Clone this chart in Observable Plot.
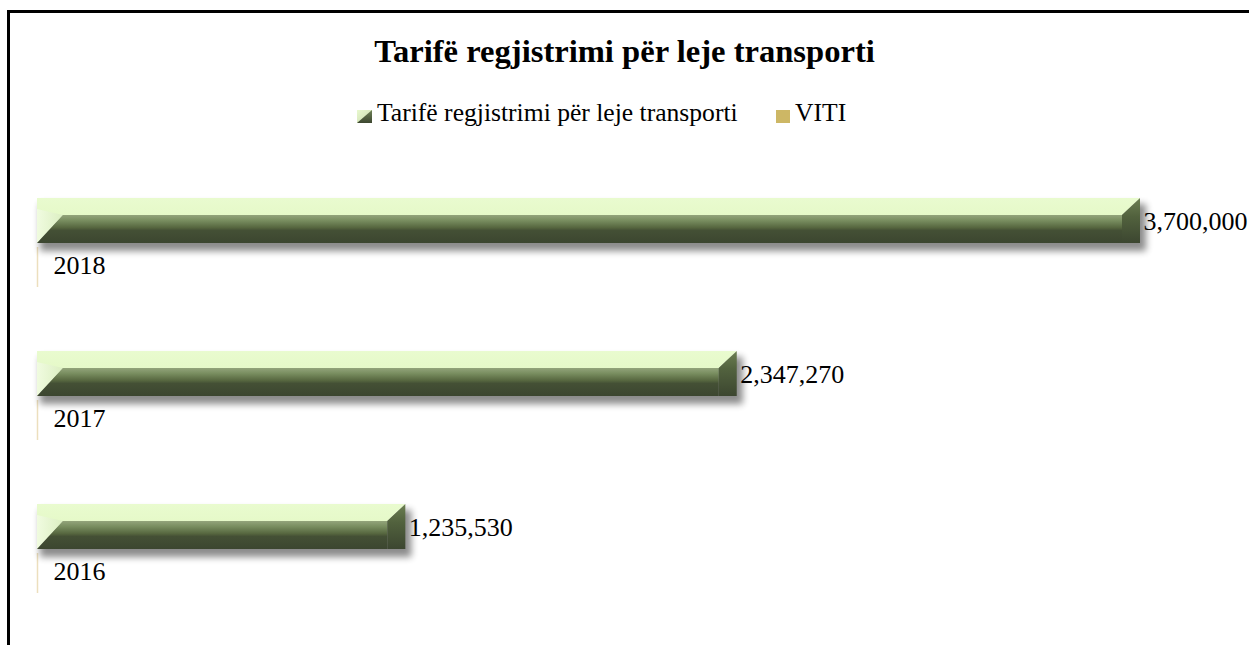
<!DOCTYPE html>
<html><head><meta charset="utf-8">
<script src="https://cdn.jsdelivr.net/npm/d3@7"></script>
<script src="https://cdn.jsdelivr.net/npm/@observablehq/plot@0.6"></script>
<style>
html,body{margin:0;padding:0;background:#fff;width:1249px;height:645px;overflow:hidden;}
body{position:relative;font-family:"Liberation Serif","Times New Roman",serif;color:#000;}
#frame{position:absolute;left:7px;top:10px;width:1300px;height:700px;border-top:3px solid #000;border-left:3px solid #000;box-sizing:border-box;}
#title{position:absolute;left:0;width:1249px;top:35px;text-align:center;font-size:32.6px;font-weight:bold;line-height:1;white-space:nowrap;}
.leg{position:absolute;font-size:25.6px;line-height:1;top:100px;white-space:nowrap;}
.mk{position:absolute;top:110px;}
#chart{position:absolute;left:0;top:150px;}
</style>
</head><body>
<div id="frame"></div>
<div id="title"></div>
<svg class="mk" style="left:357px" width="15" height="13" viewBox="0 0 15 13">
  <defs><linearGradient id="lgA" x1="0" y1="0" x2="1" y2="1"><stop offset="0" stop-color="#e9f9cf"/><stop offset="1" stop-color="#c8d8ad"/></linearGradient>
  <linearGradient id="lgB" x1="0" y1="0" x2="0" y2="1"><stop offset="0" stop-color="#6f8257"/><stop offset="1" stop-color="#3d4730"/></linearGradient></defs>
  <rect width="15" height="13" fill="url(#lgA)"/><polygon points="15,0 15,13 0,13" fill="url(#lgB)"/>
</svg>
<div class="leg" id="leg1" style="left:377px"></div>
<svg class="mk" style="left:776px" width="14" height="13"><rect width="14" height="13" fill="#cdb765"/></svg>
<div class="leg" id="leg2" style="left:795px"></div>
<div id="chart"></div>
<script>
const titleText = "Tarifë regjistrimi për leje transporti";
const years = ["2018", "2017", "2016"];
const fees = [3700000, 2347270, 1235530];
const legendLabels = ["Tarifë regjistrimi për leje transporti", "VITI"];
const xMax = 3700000;

document.getElementById("title").textContent = titleText;
document.getElementById("leg1").textContent = legendLabels[0];
document.getElementById("leg2").textContent = legendLabels[1];

const table = years.map((year, i) => ({year, value: fees[i]}));
const fmt = d3.format(",");

// bevelled 3-D bar drawn from the Plot scales
function bevelBars(index, scales) {
  const {x, y} = scales;
  const H = 45, TOP = 17, SIDE = 18, BEV = 26;
  const g = d3.create("svg:g");
  const defs = g.append("defs");
  const f = defs.append("filter").attr("id", "shadowBlur").attr("x", "-5%").attr("y", "-50%").attr("width", "110%").attr("height", "200%");
  f.append("feGaussianBlur").attr("stdDeviation", 3.5);
  const lg = (id, stops, x2 = 0, y2 = 1) => {
    const gr = defs.append("linearGradient").attr("id", id).attr("x1", 0).attr("y1", 0).attr("x2", x2).attr("y2", y2);
    for (const [o, c] of stops) gr.append("stop").attr("offset", o).attr("stop-color", c);
  };
  lg("topGrad", [[0, "#e9fbcf"], [1, "#e0f6be"]]);
  lg("frontGrad", [[0, "#93a47b"], [0.2, "#788d5f"], [0.45, "#56663f"], [0.55, "#445035"], [1, "#3c4630"]]);
  lg("sideGrad", [[0, "#6c7f52"], [0.4, "#52623e"], [1, "#3c4630"]]);
  lg("leftGrad", [[0, "#f3fce6"], [1, "#d9ecc0"]], 1, 0);
  for (const d of table) {
    const y0 = y(d.year), xs = x(0), xe = x(d.value);
    g.append("rect").attr("x", xs + 3).attr("y", y0 + 6).attr("width", xe - xs + 3).attr("height", H + 2)
      .attr("fill", "#000").attr("opacity", 0.45).attr("filter", "url(#shadowBlur)");
    g.append("polygon").attr("points", [[xs, y0], [xe, y0], [xe - SIDE, y0 + TOP], [xs + BEV, y0 + TOP], [xs, y0 + H]].join(" "))
      .attr("fill", "url(#topGrad)");
    g.append("polygon").attr("points", [[xs, y0 + TOP - 6], [xs + BEV, y0 + TOP], [xs, y0 + H]].join(" "))
      .attr("fill", "url(#leftGrad)").attr("opacity", 0.8);
    g.append("polygon").attr("points", [[xs + BEV, y0 + TOP], [xe - SIDE, y0 + TOP], [xe - SIDE, y0 + H], [xs, y0 + H]].join(" "))
      .attr("fill", "url(#frontGrad)");
    g.append("polygon").attr("points", [[xe - SIDE, y0 + TOP], [xe, y0], [xe, y0 + H], [xe - SIDE, y0 + H]].join(" "))
      .attr("fill", "url(#sideGrad)");
  }
  return g.node();
}

const chart = Plot.plot({
  width: 1249,
  height: 495,
  margin: 0,
  style: {background: "transparent", fontFamily: "'Liberation Serif', 'Times New Roman', serif", color: "#000"},
  x: {domain: [0, xMax], range: [37, 1140], axis: null},
  y: {type: "band", domain: years, range: [48, 507], padding: 0, axis: null},
  marks: [
    Plot.tickX(table, {x: () => 0, y: "year", stroke: "#ecdfbd", strokeWidth: 1.5, insetTop: 49, insetBottom: 64}),
    bevelBars,
    Plot.text(table, {x: "value", y: "year", text: d => fmt(d.value), textAnchor: "start", dx: 3, dy: -53, fontSize: 26, fill: "#000"}),
    Plot.text(table, {x: () => 0, y: "year", text: "year", textAnchor: "start", dx: 16, dy: -9, fontSize: 26, fill: "#000"})
  ]
});
document.getElementById("chart").appendChild(chart);
</script>
</body></html>
